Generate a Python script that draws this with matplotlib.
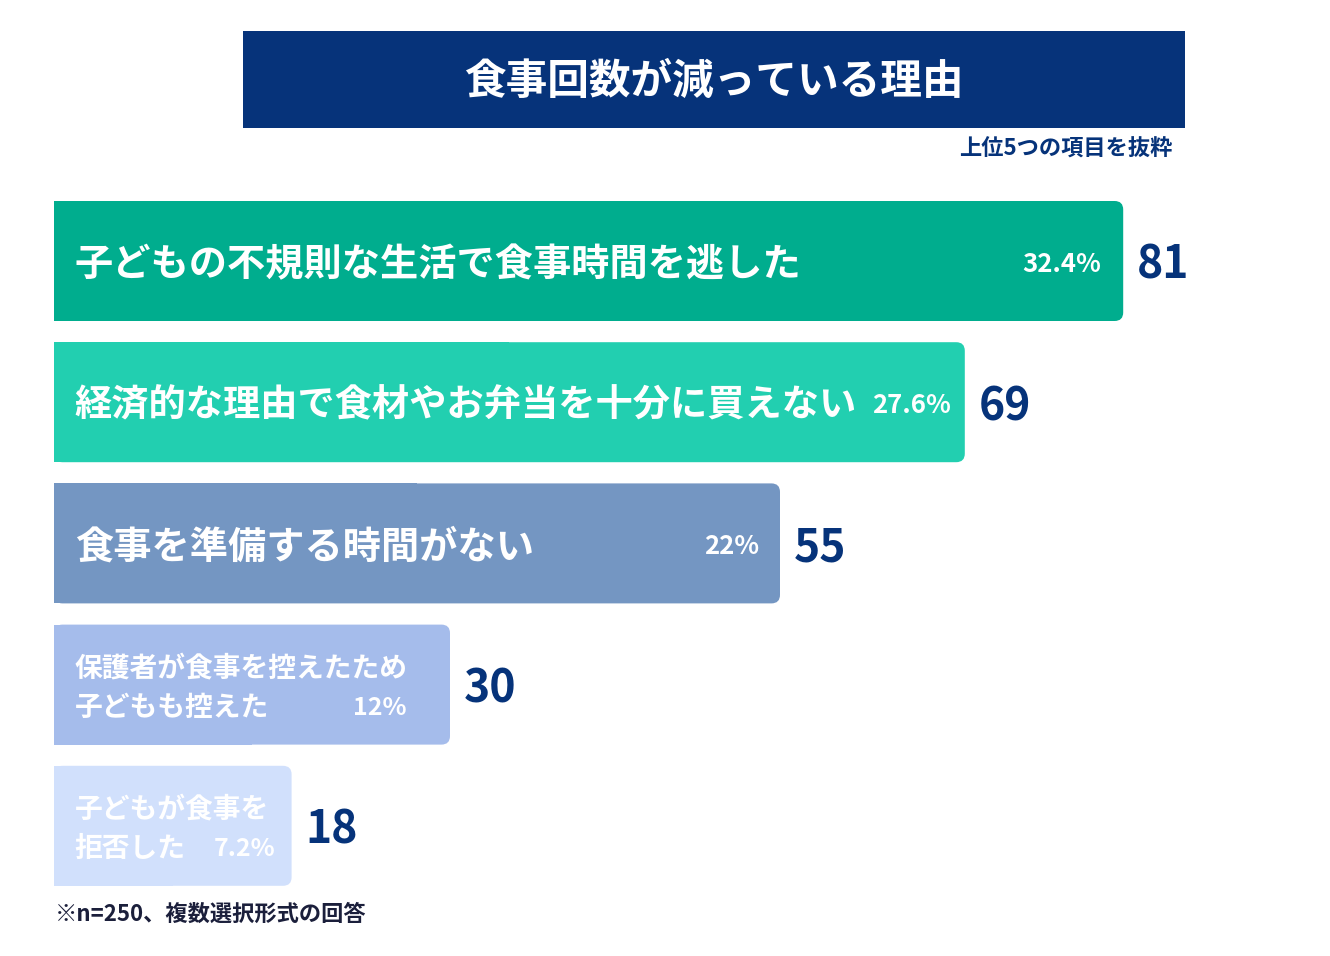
import matplotlib.pyplot as plt
from matplotlib.patches import FancyBboxPatch, Rectangle

plt.rcParams['font.family'] = ['Noto Sans CJK JP', 'DejaVu Sans']

# data
labels = ['子どもの不規則な生活で食事時間を逃した',
          '経済的な理由で食材やお弁当を十分に買えない',
          '食事を準備する時間がない',
          '保護者が食事を控えたため\n子どもも控えた',
          '子どもが食事を\n拒否した']
counts = [81, 69, 55, 30, 18]
percents = ['32.4%', '27.6%', '22%', '12%', '7.2%']
title = '食事回数が減っている理由'
subtitle = '上位5つの項目を抜粋'
note = '※n=250、複数選択形式の回答'

# styles
bar_colors = ['#00AD8E', '#22CFB0', '#7496C2', '#A5BCEB', '#D1E0FC']
navy = '#06337A'
label_sizes = [27.5, 26.8, 27.5, 20, 20]
pct_sizes = [18.5, 18.5, 18.5, 18, 18]
pct_pad = [16, 10, 15, 31, 12]      # points from bar end
line_gap = 14                       # points, half distance between two lines
shift = -2.5                        # small downward nudge for bar texts

W, H = 1330, 956
fig = plt.figure(figsize=(W / 100, H / 100), dpi=100)
ax = fig.add_axes([0, 0, 1, 1])
px_per_unit = 13.2
pitch = 141.2
ax.set_xlim(-54 / px_per_unit, (W - 54) / px_per_unit)
ax.set_ylim((H - 261) / pitch, -261 / pitch)
ax.axis('off')

bh = 120 / pitch
aspect = px_per_unit / pitch
for i, (v, c) in enumerate(zip(counts, bar_colors)):
    ax.add_patch(FancyBboxPatch((0, i - bh / 2), v, bh,
                                boxstyle='round,pad=0,rounding_size=0.65',
                                mutation_aspect=aspect, fc=c, ec='none'))
    ax.barh(i, v / 2, height=bh, left=0, color=c)
    lines = labels[i].split('\n')
    if len(lines) == 1:
        offsets = [shift]
    else:
        offsets = [line_gap + shift, -line_gap + shift]
    for line, dy in zip(lines, offsets):
        ax.annotate(line, (0, i), xytext=(15, dy), textcoords='offset points',
                    ha='left', va='center', color='white',
                    fontsize=label_sizes[i], fontweight='bold')
    ax.annotate(percents[i], (v, i), xytext=(-pct_pad[i], offsets[-1]),
                textcoords='offset points', ha='right', va='center',
                color='white', fontsize=pct_sizes[i], fontweight='bold')
    ax.annotate(str(v), (v, i), xytext=(10, -3.5), textcoords='offset points',
                ha='left', va='center', color=navy, fontsize=32,
                fontweight='bold')

# title box
fig.patches.append(Rectangle((243 / W, 1 - 128 / H), (1185 - 243) / W, 97 / H,
                             transform=fig.transFigure, fc=navy, ec='none'))
fig.text(714 / W, 1 - 82 / H, title, ha='center', va='center', color='white',
         fontsize=30, fontweight='bold')
fig.text(1172 / W, 1 - 149 / H, subtitle, ha='right', va='center',
         color=navy, fontsize=16, fontweight='bold')
fig.text(55 / W, 1 - 914 / H, note, ha='left', va='center',
         color='#1B1F3B', fontsize=16, fontweight='bold')

fig.savefig('out.png', dpi=100)
